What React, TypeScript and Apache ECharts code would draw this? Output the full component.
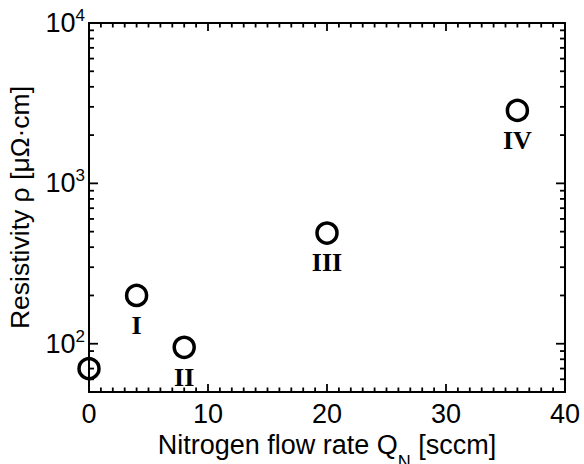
import React, { useEffect, useRef } from "react";
import * as echarts from "echarts";

// ---- data ----
const flowRates = [0, 4, 8, 20, 36];
const resistivity = [70, 200, 95, 490, 2850];
const phaseLabels = ["", "I", "II", "III", "IV"];

const xMajorTicks = [0, 10, 20, 30, 40];
const xMinorTicks = [
  1, 2, 3, 4, 5, 6, 7, 8, 9,
  11, 12, 13, 14, 15, 16, 17, 18, 19,
  21, 22, 23, 24, 25, 26, 27, 28, 29,
  31, 32, 33, 34, 35, 36, 37, 38, 39,
];
const yMajorTicks = [100, 1000, 10000];
const yMinorTicks = [
  60, 70, 80, 90,
  200, 300, 400, 500, 600, 700, 800, 900,
  2000, 3000, 4000, 5000, 6000, 7000, 8000, 9000,
];
const X_MIN = 0;
const X_MAX = 40;
const Y_MIN = 50;
const Y_MAX = 10000;

const SANS = "'Liberation Sans', Arial, sans-serif";
const SERIF = "'Liberation Serif', 'Times New Roman', serif";

export default function App() {
  const ref = useRef<HTMLDivElement>(null);
  useEffect(() => {
    document.body.style.margin = "0";
    if (!ref.current) return;
    const chart = echarts.init(ref.current, undefined, { renderer: "svg" });

    const xBase = {
      type: "value" as const,
      min: X_MIN,
      max: X_MAX,
      interval: 10,
      axisLine: { show: true, onZero: false, lineStyle: { color: "#000", width: 2 } },
      axisTick: { show: false },
      minorTick: { show: false },
      splitLine: { show: false },
      minorSplitLine: { show: false },
    };

    const yBase = {
      type: "log" as const,
      min: Y_MIN,
      max: Y_MAX,
      logBase: 10,
      axisLine: { show: true, onZero: false, lineStyle: { color: "#000", width: 2 } },
      axisTick: { show: false },
      minorTick: { show: false },
      splitLine: { show: false },
      minorSplitLine: { show: false },
    };

    chart.setOption({
      animation: false,
      grid: { left: 89, right: 19, top: 23, bottom: 72, containLabel: false, outerBoundsMode: "none" },
      xAxis: [
        {
          ...xBase,
          position: "bottom",
          name: "{a|Nitrogen flow rate Q}{sub|N}{a| [sccm]}",
          nameLocation: "middle",
          nameGap: 8,
          nameTextStyle: {
            rich: {
              a: { fontFamily: SANS, fontSize: 27, color: "#000" },
              sub: { fontFamily: SANS, fontSize: 18, color: "#000", verticalAlign: "bottom", padding: [33, 0, 0, 0] },
            },
          },
          axisLabel: {
            show: true,
            margin: 8,
            fontFamily: SANS,
            fontSize: 27,
            color: "#000",
            formatter: (v: number) => (xMajorTicks.includes(v) ? String(v) : ""),
          },
        },
        {
          ...xBase,
          position: "top",
          axisLabel: { show: false },
        },
      ],
      yAxis: [
        {
          ...yBase,
          position: "left",
          name: "Resistivity ρ [μΩ·cm]",
          nameLocation: "middle",
          nameGap: 56,
          nameTextStyle: { fontFamily: SANS, fontSize: 26.5, color: "#000" },
          axisLabel: {
            show: true,
            margin: 4,
            color: "#000",
            formatter: (v: number) => {
              const e = Math.log10(v);
              if (Math.abs(e - Math.round(e)) > 1e-6) return "";
              return "{b|10}{s|" + Math.round(e) + "}";
            },
            rich: {
              b: { fontFamily: SANS, fontSize: 27, color: "#000", lineHeight: 32 },
              s: { fontFamily: SANS, fontSize: 17, color: "#000", verticalAlign: "top", lineHeight: 14 },
            },
          },
        },
        {
          ...yBase,
          position: "right",
          axisLabel: { show: false },
        },
      ],
      series: [
        {
          type: "scatter",
          xAxisIndex: 0,
          yAxisIndex: 0,
          clip: false,
          symbol: "circle",
          symbolSize: 20,
          itemStyle: { color: "rgba(0,0,0,0)", borderColor: "#000", borderWidth: 3.5, opacity: 1 },
          label: {
            show: true,
            position: "bottom",
            distance: 5,
            fontFamily: SERIF,
            fontWeight: "bold",
            fontSize: 26,
            color: "#000",
            formatter: (p: any) => phaseLabels[p.dataIndex],
          },
          data: flowRates.map((x, i) => [x, resistivity[i]]),
        },
      ],
    });

    // Ticks on all four sides, positioned through the chart's own scales.
    const toPx = (x: number, y: number) =>
      chart.convertToPixel({ xAxisIndex: 0, yAxisIndex: 0 }, [x, y]) as number[];
    const els: any[] = [];
    const stroke = { stroke: "#000", lineWidth: 1.8 };
    const addX = (v: number, len: number) => {
      const b = toPx(v, Y_MIN);
      const t = toPx(v, Y_MAX);
      els.push({ type: "line", zlevel: 10, z: 100, shape: { x1: b[0], y1: b[1], x2: b[0], y2: b[1] - len }, style: stroke });
      els.push({ type: "line", zlevel: 10, z: 100, shape: { x1: t[0], y1: t[1], x2: t[0], y2: t[1] + len }, style: stroke });
    };
    const addY = (v: number, len: number) => {
      const l = toPx(X_MIN, v);
      const r = toPx(X_MAX, v);
      els.push({ type: "line", zlevel: 10, z: 100, shape: { x1: l[0], y1: l[1], x2: l[0] + len, y2: l[1] }, style: stroke });
      els.push({ type: "line", zlevel: 10, z: 100, shape: { x1: r[0], y1: r[1], x2: r[0] - len, y2: r[1] }, style: stroke });
    };
    xMajorTicks.forEach((v) => addX(v, 8));
    xMinorTicks.forEach((v) => addX(v, 4.5));
    yMajorTicks.forEach((v) => addY(v, 9));
    yMinorTicks.forEach((v) => addY(v, 5));
    chart.setOption({ graphic: [{ type: "group", silent: true, zlevel: 10, z: 100, children: els }] });

    return () => chart.dispose();
  }, []);
  return <div ref={ref} style={{ width: 584, height: 464, background: "#fff" }} />;
}
